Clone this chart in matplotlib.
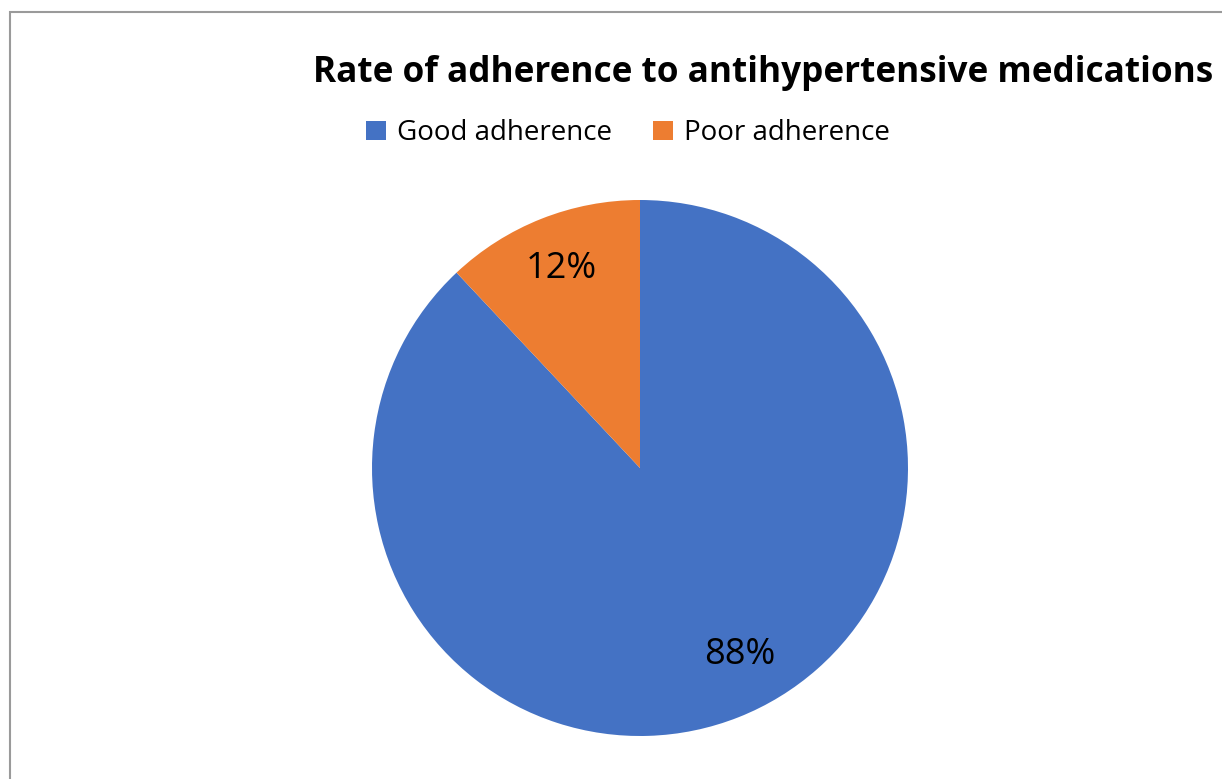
import matplotlib
matplotlib.use("Agg")
import numpy as np
import matplotlib.pyplot as plt
from matplotlib.patches import Rectangle

categories = ["Good adherence", "Poor adherence"]
shares = [88, 12]
colors = ["#4472C4", "#ED7D31"]
title = "Rate of adherence to antihypertensive medications"

plt.rcParams["font.family"] = ["Open Sans", "DejaVu Sans"]

W, H = 1222, 779
fig = plt.figure(figsize=(W / 100, H / 100), dpi=100)

# chart-area border (cut off at right and bottom)
fig.add_artist(Rectangle((9.5 / W, -0.05), 1.2, 1 - 11.5 / H + 0.05,
                         transform=fig.transFigure, fill=False,
                         edgecolor="#9a9a9a", linewidth=1.5))

cx, cy, r = 640, 468, 268
ax = fig.add_axes([(cx - r) / W, (H - cy - r) / H, 2 * r / W, 2 * r / H])
wedges, _, autotexts = ax.pie(shares, colors=colors, startangle=90,
                              counterclock=False, radius=1.0,
                              autopct=lambda p: f"{p:.0f}%", pctdistance=0.8,
                              textprops=dict(fontsize=26, color="black"))
# Excel puts the big label a bit further round
ang = np.deg2rad(-62)
autotexts[0].set_position((0.79 * np.cos(ang), 0.79 * np.sin(ang)))
ax.set_xlim(-1, 1)
ax.set_ylim(-1, 1)
ax.set_aspect("equal")
ax.axis("off")

fig.text(763 / W, 1 - 73 / H, title, ha="center", va="center",
         fontsize=25.3, fontweight="bold")

fig.legend(wedges, categories, loc="center", bbox_to_anchor=(628 / W, 1 - 133 / H),
           ncol=2, frameon=False, fontsize=20, handlelength=0.7, handleheight=0.7,
           handletextpad=0.4, columnspacing=1.5)

fig.savefig("out.png", dpi=100)
